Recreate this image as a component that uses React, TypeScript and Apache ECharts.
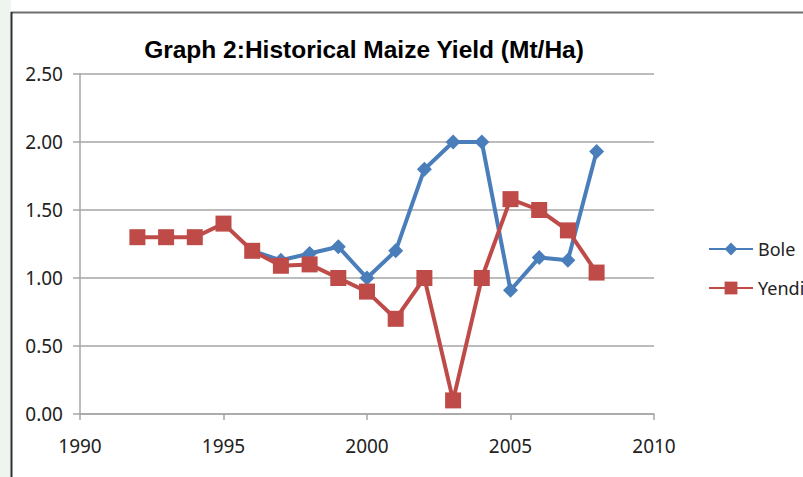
import React, { useEffect, useRef } from "react";
import * as echarts from "echarts";

const years: number[] = [1992, 1993, 1994, 1995, 1996, 1997, 1998, 1999, 2000, 2001, 2002, 2003, 2004, 2005, 2006, 2007, 2008];
const boleValues: (number | null)[] = [null, null, null, null, 1.2, 1.13, 1.18, 1.23, 1.0, 1.2, 1.8, 2.0, 2.0, 0.91, 1.15, 1.13, 1.93];
const yendiValues: number[] = [1.3, 1.3, 1.3, 1.4, 1.2, 1.09, 1.1, 1.0, 0.9, 0.7, 1.0, 0.1, 1.0, 1.58, 1.5, 1.35, 1.04];
const seriesNames: string[] = ["Bole", "Yendi"];
const titleText = "Graph 2:Historical Maize Yield (Mt/Ha)";

const pairs = (vals: (number | null)[]) =>
  years.map((y, i) => [y, vals[i]]).filter((p) => p[1] !== null);

export default function App() {
  const ref = useRef<HTMLDivElement>(null);
  useEffect(() => {
    if (!ref.current) return;
    const chart = echarts.init(ref.current, null, { renderer: "svg" });
    const labelFont = "'Noto Sans', 'Open Sans', sans-serif";
    chart.setOption({
      animation: false,
      backgroundColor: "#ffffff",
      title: {
        text: titleText,
        left: 359,
        textAlign: "center",
        top: 32,
        textStyle: { fontFamily: "'Liberation Sans', Arial, sans-serif", fontWeight: "bold", fontSize: 24.5, color: "#000" },
      },
      graphic: [
        { type: "rect", shape: { x: 0, y: 0, width: 11, height: 477 }, style: { fill: "#eef4ee" }, silent: true },
        { type: "line", shape: { x1: 11, y1: 12.5, x2: 803, y2: 12.5 }, style: { stroke: "#6e6e6e", lineWidth: 2 }, silent: true },
        { type: "line", shape: { x1: 11.5, y1: 12, x2: 11.5, y2: 477 }, style: { stroke: "#303030", lineWidth: 2 }, silent: true },
      ],
      legend: {
        orient: "vertical",
        left: 703,
        top: 235,
        itemGap: 21,
        itemWidth: 44,
        itemHeight: 16,
        textStyle: { fontFamily: labelFont, fontSize: 18, color: "#222" },
        data: seriesNames,
      },
      grid: { left: 80, right: 149, top: 74, bottom: 63 },
      xAxis: {
        type: "value",
        min: 1990,
        max: 2010,
        interval: 5,
        axisLine: { show: true, lineStyle: { color: "#a6a6a6", width: 1.5 } },
        axisTick: { show: true, inside: false, length: 6, lineStyle: { color: "#a6a6a6", width: 1.5 } },
        splitLine: { show: false },
        axisLabel: { margin: 22, fontFamily: labelFont, fontSize: 19, color: "#222", formatter: (v: number) => String(v) },
      },
      yAxis: {
        type: "value",
        min: 0,
        max: 2.5,
        interval: 0.5,
        axisLine: { show: true, lineStyle: { color: "#a6a6a6", width: 1.5 } },
        axisTick: { show: true, inside: false, length: 7, lineStyle: { color: "#a6a6a6", width: 1.5 } },
        splitLine: { show: true, lineStyle: { color: "#a6a6a6", width: 1.5 } },
        axisLabel: { margin: 17, fontFamily: labelFont, fontSize: 19, color: "#222", formatter: (v: number) => v.toFixed(2) },
      },
      series: [
        {
          name: seriesNames[0],
          type: "line",
          data: pairs(boleValues),
          symbol: "diamond",
          symbolSize: 15,
          itemStyle: { color: "#4a7ebb" },
          lineStyle: { color: "#4a7ebb", width: 4 },
          z: 2,
        },
        {
          name: seriesNames[1],
          type: "line",
          data: pairs(yendiValues),
          symbol: "rect",
          symbolSize: 16,
          itemStyle: { color: "#be4b48" },
          lineStyle: { color: "#be4b48", width: 4 },
          z: 3,
        },
      ],
    });
    return () => chart.dispose();
  }, []);
  return (
    <div
      ref={ref}
      style={{ position: "absolute", left: 0, top: 0, width: 803, height: 477 }}
    />
  );
}
